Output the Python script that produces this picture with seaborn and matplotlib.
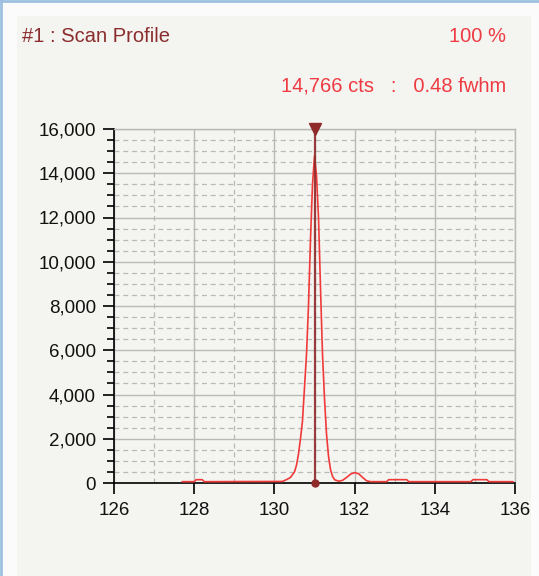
import numpy as np
import pandas as pd
import matplotlib
matplotlib.use("Agg")
import matplotlib.pyplot as plt
import seaborn as sns
from matplotlib.patches import Rectangle
from matplotlib.lines import Line2D
from matplotlib.ticker import MultipleLocator, FuncFormatter

# scan profile (position vs counts)
position = [127.70, 128.00, 128.05, 128.20, 128.25, 130.20, 130.30, 130.40, 130.50,
            130.55, 130.60, 130.65, 130.70, 130.75, 130.80, 130.85, 130.90, 130.95,
            131.00, 131.05, 131.10, 131.15, 131.20, 131.25, 131.30, 131.35, 131.40,
            131.45, 131.50, 131.60, 131.70, 131.80, 131.90, 132.00, 132.10, 132.20,
            132.30, 132.40, 132.80, 132.85, 133.30, 133.35, 134.90, 134.95, 135.30,
            135.35, 135.95]
counts = [60, 60, 150, 150, 60, 70, 150, 250, 500,
          800, 1300, 2000, 2800, 4300, 5800, 8000, 11000, 13500,
          14766, 13900, 12000, 8800, 5800, 3800, 2200, 1200, 600,
          300, 150, 80, 120, 250, 400, 470, 420, 250,
          100, 60, 60, 150, 150, 60, 60, 150, 150,
          60, 60]

peak_pos = 131.0
x_ticks = [126, 128, 130, 132, 134, 136]
y_max = 16000

title_left = "#1 : Scan Profile"
title_right = "100 %"
stats_text = "14,766 cts   :   0.48 fwhm"

df = pd.DataFrame({"position": position, "counts": counts})

sns.set_theme(style="white")
plt.rcParams['font.family'] = ['Liberation Sans', 'DejaVu Sans']

bg = "#f4f4f0"
fig = plt.figure(figsize=(5.39, 5.76), dpi=100)
fig.patch.set_facecolor("#fbfbfb")

# inner panel + blue window edge
fig.patches.append(Rectangle((17 / 539, 0), 1 - 25 / 539, 1 - 16 / 576,
                             transform=fig.transFigure, facecolor=bg, edgecolor="none", zorder=-10))
fig.lines.append(Line2D([0.002, 0.002], [0, 1], transform=fig.transFigure, color="#9ec0e0", lw=2))
fig.lines.append(Line2D([0, 1], [0.998, 0.998], transform=fig.transFigure, color="#9ec0e0", lw=2))

ax = fig.add_axes([114 / 539, 1 - 483 / 576, 401 / 539, 354 / 576])
ax.set_facecolor(bg)

# grid
ax.set_xlim(126, 136)
ax.set_ylim(0, y_max)
ax.set_xticks(x_ticks)
ax.xaxis.set_minor_locator(MultipleLocator(1))
ax.yaxis.set_major_locator(MultipleLocator(2000))
ax.yaxis.set_minor_locator(MultipleLocator(500))
ax.grid(which="major", color="#b9b9b9", lw=1, ls="-")
ax.grid(which="minor", color="#b9b9b9", lw=0.9, ls=(0, (4, 3)))
ax.set_axisbelow(True)

sns.lineplot(data=df, x="position", y="counts", ax=ax, color="#f03a3a", lw=1.2, zorder=3)

# peak marker
ax.plot([peak_pos, peak_pos], [0, y_max], color="#8e2a2a", lw=1.6, zorder=4, alpha=0.9)
ax.plot([peak_pos], [y_max], marker="v", color="#8e2a2a", ms=9, clip_on=False, zorder=5)
ax.plot([peak_pos], [0], marker="o", color="#8e2a2a", ms=5, clip_on=False, zorder=5)

ax.set_xlabel("")
ax.set_ylabel("")
ax.yaxis.set_major_formatter(FuncFormatter(lambda v, p: f"{int(v):,}"))

for side in ["top", "right"]:
    ax.spines[side].set_color("#b9b9b9")
    ax.spines[side].set_linewidth(1)
for side in ["left", "bottom"]:
    ax.spines[side].set_color("black")
    ax.spines[side].set_linewidth(1.2)

ax.tick_params(axis="both", which="major", direction="out", length=8, width=1.2,
               color="black", labelsize=13.5, labelcolor="#111111",
               left=True, bottom=True)
ax.tick_params(axis="y", which="major", pad=5)
ax.tick_params(axis="x", which="major", pad=6)
ax.tick_params(axis="y", which="minor", direction="out", length=5, width=1.2,
               color="black", left=True)
ax.tick_params(axis="x", which="minor", length=0)

fig.text(22 / 539, 1 - 36 / 576, title_left, color="#8b2d2d", fontsize=14.5,
         ha="left", va="center")
fig.text(506 / 539, 1 - 36 / 576, title_right, color="#ee3b43", fontsize=14.5,
         ha="right", va="center")
fig.text(506 / 539, 1 - 86 / 576, stats_text, color="#ee3b43", fontsize=14.5,
         ha="right", va="center")

fig.savefig("out.png", dpi=100, facecolor=fig.get_facecolor())
